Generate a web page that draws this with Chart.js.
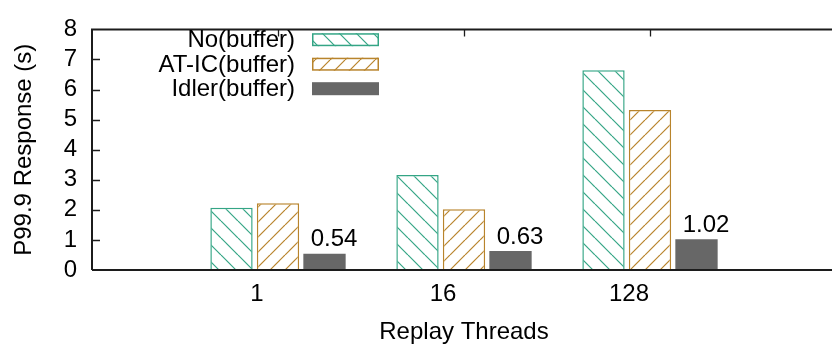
<!DOCTYPE html>
<html>
<head>
<meta charset="utf-8">
<script src="https://cdn.jsdelivr.net/npm/chart.js@4.4.1/dist/chart.umd.min.js"></script>
<style>
  html, body { margin: 0; padding: 0; background: #fff; overflow: hidden; }
  #wrap { width: 846px; height: 345px; }
</style>
</head>
<body>
<div id="wrap"><canvas id="chart" width="846" height="345"></canvas></div>
<script>
// values
const threads = ["1", "16", "128"];
const noBuffer = [2.07, 3.16, 6.64];
const aticBuffer = [2.22, 2.02, 5.32];
const idlerBuffer = [0.54, 0.63, 1.02];
const seriesNames = ["No(buffer)", "AT-IC(buffer)", "Idler(buffer)"];

const FONT = '"Liberation Sans", Arial, Helvetica, sans-serif';
const FSIZE = 24;
const GREEN = "#34a585";
const ORANGE = "#b8842c";
const GRAY = "#676767";
const AXIS = "#1c1c1c";

const canvas = document.getElementById("chart");
const ctx = canvas.getContext("2d");

// gnuplot-like hatch fill
function hatch(color, step, dir) {
  const c = document.createElement("canvas");
  c.width = c.height = step;
  const g = c.getContext("2d");
  g.fillStyle = "#fff";
  g.fillRect(0, 0, step, step);
  g.strokeStyle = color;
  g.lineWidth = 1.2;
  for (const k of [-step, 0, step]) {
    g.beginPath();
    if (dir > 0) { g.moveTo(k, step); g.lineTo(k + step, 0); }
    else { g.moveTo(k, 0); g.lineTo(k + step, step); }
    g.stroke();
  }
  return ctx.createPattern(c, "repeat");
}

// one empty slot each side so the x range runs -1..3
const labels = ["", ...threads, ""];
const pad = arr => [null, ...arr, null];

const frame = {
  id: "frame",
  afterDatasetsDraw(chart) {
    const { ctx, chartArea: a, scales: { x, y } } = chart;
    ctx.save();
    ctx.strokeStyle = AXIS;
    ctx.lineWidth = 2;
    ctx.beginPath();
    ctx.moveTo(a.left, a.bottom);
    ctx.lineTo(a.left, a.top);
    ctx.lineTo(a.right, a.top);
    ctx.lineTo(a.right, a.bottom);
    ctx.lineTo(a.left, a.bottom);
    ctx.stroke();
    ctx.lineWidth = 1.3;
    ctx.beginPath();
    for (let v = 1; v < 8; v++) {
      const py = Math.round(y.getPixelForValue(v)) + 0.5;
      ctx.moveTo(a.left, py); ctx.lineTo(a.left + 8, py);
    }
    for (let i = 1; i <= threads.length; i++) {
      const px = Math.round(x.getPixelForValue(i)) + 0.5;
      ctx.moveTo(px, a.top); ctx.lineTo(px, a.top + 7);
    }
    ctx.stroke();

    // value labels over the Idler bars
    const meta = chart.getDatasetMeta(2);
    ctx.fillStyle = "#000";
    ctx.font = FSIZE + "px " + FONT;
    ctx.textAlign = "center";
    ctx.textBaseline = "alphabetic";
    meta.data.forEach((bar, i) => {
      const v = chart.data.datasets[2].data[i];
      if (v == null) return;
      ctx.fillText(v.toFixed(2), bar.x + 9.5, bar.y - 7.5);
    });
    ctx.restore();
  },
  afterDraw(chart) {
    const { ctx } = chart;
    ctx.save();
    ctx.font = FSIZE + "px " + FONT;
    ctx.textAlign = "right";
    ctx.textBaseline = "middle";
    chart.data.datasets.forEach((ds, i) => {
      const cy = 39.7 + i * 24.5;
      ctx.fillStyle = "#000";
      ctx.fillText(ds.label, 295, cy + 1);
      ctx.fillStyle = ds.backgroundColor;
      ctx.fillRect(312, cy - 6.5, 67, 13);
      if (ds.borderWidth) {
        ctx.strokeStyle = ds.borderColor;
        ctx.lineWidth = 1.5;
        ctx.strokeRect(312.75, cy - 5.75, 65.5, 11.5);
      }
    });
    ctx.restore();
  }
};

new Chart(ctx, {
  type: "bar",
  data: {
    labels: labels,
    datasets: [
      {
        label: seriesNames[0],
        data: pad(noBuffer),
        backgroundColor: hatch(GREEN, 17, -1),
        borderColor: GREEN,
        borderWidth: 1.5
      },
      {
        label: seriesNames[1],
        data: pad(aticBuffer),
        backgroundColor: hatch(ORANGE, 15, 1),
        borderColor: ORANGE,
        borderWidth: 1.5
      },
      {
        label: seriesNames[2],
        data: pad(idlerBuffer),
        backgroundColor: GRAY,
        borderWidth: 0
      }
    ]
  },
  options: {
    responsive: false,
    animation: false,
    devicePixelRatio: 1,
    categoryPercentage: 0.75,
    barPercentage: 0.91,
    layout: { padding: { top: 20, right: 6, left: 0, bottom: 0 } },
    plugins: {
      legend: { display: false },
      tooltip: { enabled: false }
    },
    scales: {
      x: {
        offset: false,
        grid: { display: false, drawTicks: false },
        border: { display: false },
        ticks: {
          color: "#000",
          font: { family: FONT, size: FSIZE },
          padding: 10,
          labelOffset: -21,
          maxRotation: 0,
          autoSkip: false
        },
        title: {
          display: true,
          text: "Replay Threads",
          color: "#000",
          font: { family: FONT, size: FSIZE },
          padding: { top: 0, bottom: -2 }
        },
        afterFit: s => { s.height = 75; }
      },
      y: {
        min: 0,
        max: 8,
        grid: { display: false, drawTicks: false },
        border: { display: false },
        ticks: {
          stepSize: 1,
          autoSkip: false,
          color: "#000",
          font: { family: FONT, size: FSIZE },
          padding: 15
        },
        title: {
          display: true,
          text: "P99.9 Response (s)",
          color: "#000",
          font: { family: FONT, size: FSIZE },
          padding: { top: 10, bottom: 0 }
        },
        afterFit: s => { s.width = 92; }
      }
    }
  },
  plugins: [frame]
});
</script>
</body>
</html>
